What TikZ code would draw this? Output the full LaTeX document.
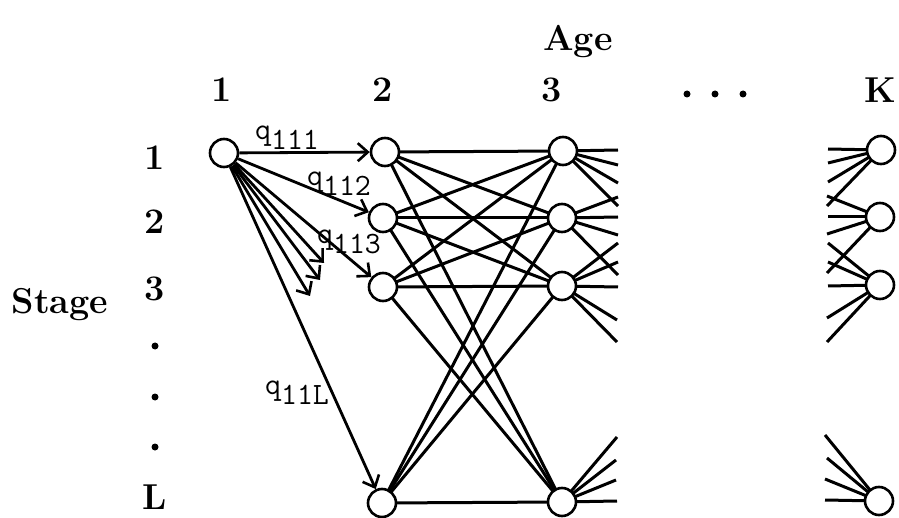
\documentclass[tikz,border=0pt]{standalone}
\usepackage{fontspec}
\usetikzlibrary{arrows.meta}
\tikzset{
  st/.style={circle,draw,line width=2.6pt,minimum size=28pt,inner sep=0pt,fill=white},
  ln/.style={line width=3pt},
  arr/.style={line width=2.8pt,-{Straight Barb[length=10pt,width=18pt,line width=2.6pt]}},
  hd/.style={font=\fontsize{36}{36}\bfseries\selectfont,inner sep=0pt},
  ql/.style={font=\fontsize{31}{31}\ttfamily\selectfont,inner sep=0pt},
  dt/.style={circle,fill=black,inner sep=0pt,minimum size=7pt},
}
\newcommand{\qlab}[1]{q\raisebox{-10pt}{#1}}
\begin{document}
\begin{tikzpicture}[x=1pt,y=-1pt]
\useasboundingbox (0,0) rectangle (899,518);
% headers
\node[hd] (age) at (578,42) {Age};
\node[hd] (h1) at (222,90) {1};
\node[hd] (h2) at (383,90) {2};
\node[hd] (h3) at (552,90) {3};
\node[dt] (hd1) at (687,94) {};
\node[dt] (hd2) at (715,94) {};
\node[dt] (hd3) at (743,94) {};
\node[hd] (hK) at (880,90) {K};
% row labels
\node[hd] (r1) at (155,158) {1};
\node[hd] (r2) at (155,222) {2};
\node[hd] (r3) at (155,289) {3};
\node[dt] (rd1) at (155,346) {};
\node[dt] (rd2) at (155,397) {};
\node[dt] (rd3) at (155,447) {};
\node[hd] (rL) at (155,497) {L};
\node[hd] (stage) at (60,305) {Stage};
% col 3 stubs
\coordinate (c1a) at (618,150); \coordinate (c1b) at (618,165);
\coordinate (c1c) at (618,183); \coordinate (c1d) at (618,206);
\coordinate (c2a) at (618,197); \coordinate (c2b) at (618,217);
\coordinate (c2c) at (618,235); \coordinate (c2d) at (618,275);
\coordinate (c3a) at (618,243); \coordinate (c3b) at (618,262);
\coordinate (c3c) at (618,287); \coordinate (c3d) at (617,320);
\coordinate (c3e) at (617,342);
\coordinate (cLa) at (617,437); \coordinate (cLb) at (616,460);
\coordinate (cLc) at (616,480); \coordinate (cLd) at (617,501);
% col K stubs
\coordinate (k1a) at (828,149); \coordinate (k1b) at (828,163);
\coordinate (k1c) at (828,182); \coordinate (k1d) at (827,206);
\coordinate (k2a) at (827,196); \coordinate (k2b) at (828,217);
\coordinate (k2c) at (827,234); \coordinate (k2d) at (827,273);
\coordinate (k3a) at (828,243); \coordinate (k3b) at (828,262);
\coordinate (k3c) at (828,286); \coordinate (k3d) at (827,318);
\coordinate (k3e) at (827,342);
\coordinate (kLa) at (825,435); \coordinate (kLb) at (827,458);
\coordinate (kLc) at (825,479); \coordinate (kLd) at (825,500);
% extra arrow ends
\coordinate (e1) at (324,263);
\coordinate (e2) at (320,280);
\coordinate (e3) at (310,296);
% node centres
\coordinate (b1p) at (385,152); \coordinate (b2p) at (383,218);
\coordinate (b3p) at (383,287); \coordinate (bLp) at (382,503);
\coordinate (c1p) at (563,151); \coordinate (c2p) at (562,218);
\coordinate (c3p) at (562,286); \coordinate (cLp) at (562,502);
\coordinate (k1p) at (881,150); \coordinate (k2p) at (880,217);
\coordinate (k3p) at (880,285); \coordinate (kLp) at (879,501);
% edges col2 -> col3
\foreach \s in {b1p,b2p,b3p,bLp}{
  \foreach \t in {c1p,c2p,c3p,cLp}{
    \draw[ln] (\s) -- (\t);
  }
}
\foreach \t in {c1a,c1b,c1c,c1d}{\draw[ln] (c1p) -- (\t);}
\foreach \t in {c2a,c2b,c2c,c2d}{\draw[ln] (c2p) -- (\t);}
\foreach \t in {c3a,c3b,c3c,c3d,c3e}{\draw[ln] (c3p) -- (\t);}
\foreach \t in {cLa,cLb,cLc,cLd}{\draw[ln] (cLp) -- (\t);}
\foreach \t in {k1a,k1b,k1c,k1d}{\draw[ln] (k1p) -- (\t);}
\foreach \t in {k2a,k2b,k2c,k2d}{\draw[ln] (k2p) -- (\t);}
\foreach \t in {k3a,k3b,k3c,k3d,k3e}{\draw[ln] (k3p) -- (\t);}
\foreach \t in {kLa,kLb,kLc,kLd}{\draw[ln] (kLp) -- (\t);}
% nodes
\node[st] (a1) at (224,153) {};
\node[st] (b1) at (b1p) {};
\node[st] (b2) at (b2p) {};
\node[st] (b3) at (b3p) {};
\node[st] (bL) at (bLp) {};
\node[st] (c1) at (c1p) {};
\node[st] (c2) at (c2p) {};
\node[st] (c3) at (c3p) {};
\node[st] (cL) at (cLp) {};
\node[st] (k1) at (k1p) {};
\node[st] (k2) at (k2p) {};
\node[st] (k3) at (k3p) {};
\node[st] (kL) at (kLp) {};
% arrows from a1
\draw[arr] (a1) -- (b1);
\draw[arr] (a1) -- (b2);
\draw[arr] (a1) -- (b3);
\draw[arr] (a1) -- (e1);
\draw[arr] (a1) -- (e2);
\draw[arr] (a1) -- (e3);
\draw[arr] (a1) -- (bL);
% labels
\node[ql] (q1) at (287,138) {\qlab{111}};
\node[ql] (q2) at (339,184) {\qlab{112}};
\node[ql] (q3) at (349,242) {\qlab{113}};
\node[ql] (qL) at (297,393) {\qlab{11L}};
\end{tikzpicture}
\end{document}
